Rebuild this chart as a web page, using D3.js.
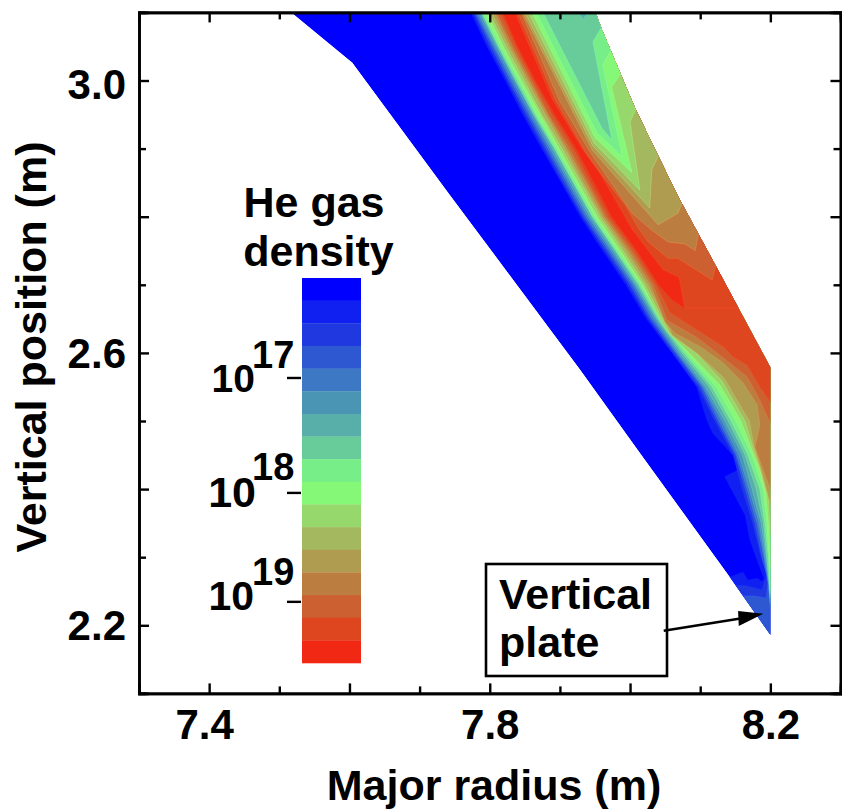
<!DOCTYPE html>
<html><head><meta charset="utf-8">
<script src="https://cdnjs.cloudflare.com/ajax/libs/d3/7.8.5/d3.min.js"></script>
<style>html,body{margin:0;padding:0;background:#fff}text{font-family:"Liberation Sans",Arial,sans-serif;font-weight:bold;fill:#000}</style>
</head><body><svg id="c" width="842" height="809"></svg>
<script>
// Axis ticks
const xMajor=[7.4,7.6,7.8,8.0,8.2], xMinor=[7.5,7.7,7.9,8.1], xLabelled=[7.4,7.8,8.2];
const yMajor=[3.0,2.8,2.6,2.4,2.2], yMinor=[2.9,2.7,2.5,2.3], yLabelled=[3.0,2.6,2.2];
// Colour levels, low density to high density
const levelColors=["#0000ff","#1020f0","#2038e0","#2e58d2","#3c78c4","#4a94b4","#58aea8","#68cc9a","#78ee88","#86f878","#96d86c","#a4b860","#b09c50","#bc7e40","#cc6030","#de4620","#f02814"];
const barTicks=[17,18,19];
const barTickLevels=[4.415,9.49,14.3];
// Plasma grid outline (R, Z in metres)
const outline=[[7.517,3.1],[7.604,3.026],[7.743,2.832],[7.929,2.575],[8.014,2.453],[8.142,2.271],[8.2,2.186],[8.2,2.579],[8.12,2.732],[8.071,2.825],[8.038,2.894],[8.007,2.96],[7.986,3.011],[7.959,3.077],[7.951,3.1]];
// Contours on the low-R side: x at each row, then tail points
const rowZ=[3.1,3.05,3.0,2.95,2.9,2.85,2.8,2.75,2.7,2.65,2.6,2.55,2.5,2.45,2.4,2.35,2.3];
const rise1X=[7.773,7.796,7.822,7.847,7.874,7.902,7.929,7.961,7.994,8.023,8.06,8.095,8.11];
const rise1Tail=[[8.118,2.482],[8.15,2.446],[8.154,2.428],[8.135,2.418],[8.164,2.362],[8.171,2.325],[8.181,2.296],[8.191,2.269],[8.188,2.264],[8.181,2.269],[8.168,2.266],[8.161,2.278],[8.142,2.271],[8.121,2.271],[8.121,2.0],[8.4,2.0]];
const rise2X=[7.776,7.799,7.825,7.85,7.877,7.904,7.932,7.964,7.997,8.026,8.061,8.097,8.121,8.147,8.16,8.175,8.187];
const rise2Tail=[[8.195,2.274],[8.188,2.252],[8.164,2.258],[8.128,2.258],[8.128,2.0],[8.4,2.0]];
const rise3X=[7.778,7.802,7.827,7.853,7.88,7.907,7.934,7.967,8.0,8.028,8.064,8.1,8.124,8.15,8.164,8.178,8.188];
const rise3Tail=[[8.197,2.266],[8.194,2.24],[8.178,2.243],[8.164,2.243],[8.142,2.243],[8.142,2.0],[8.4,2.0]];
const rise4X=[7.78,7.805,7.83,7.856,7.883,7.91,7.937,7.97,8.003,8.031,8.066,8.103,8.127,8.152,8.167,8.181,8.191];
const rise4Tail=[[8.197,2.26],[8.2,2.225]];
const rise5X=[7.783,7.807,7.833,7.859,7.886,7.913,7.94,7.973,8.006,8.034,8.068,8.105,8.131,8.155,8.17,8.184,8.192];
const rise5Tail=[[8.198,2.26],[8.2,2.23]];
const rise6X=[7.786,7.81,7.836,7.862,7.889,7.916,7.943,7.976,8.008,8.037,8.071,8.108,8.135,8.16,8.174,8.187,8.194];
const rise6Tail=[[8.198,2.27],[8.2,2.235]];
const rise7X=[7.788,7.812,7.837,7.863,7.892,7.919,7.946,7.979,8.011,8.039,8.074,8.113,8.14,8.164,8.18,8.19,8.195];
const rise7Tail=[[8.2,2.24]];
const rise8X=[7.789,7.813,7.839,7.865,7.893,7.92,7.947,7.98,8.013,8.041,8.077,8.117,8.144,8.168,8.185,8.192,8.197];
const rise8Tail=[[8.2,2.245]];
const rise9X=[7.792,7.816,7.842,7.867,7.896,7.923,7.95,7.983,8.016,8.044,8.081,8.123,8.151,8.174,8.19,8.195,8.198];
const rise9Tail=[[8.2,2.25]];
const rise10X=[7.796,7.819,7.845,7.872,7.899,7.926,7.953,7.986,8.018];
const rise10Tail=[[8.047,2.641],[8.053,2.631],[8.084,2.6],[8.128,2.553],[8.158,2.5],[8.172,2.462],[8.185,2.428],[8.194,2.391],[8.198,2.34],[8.2,2.281]];
const rise11X=[7.799,7.823,7.849,7.874,7.903,7.93,7.957,7.99,8.021];
const rise11Tail=[[8.051,2.641],[8.057,2.628],[8.093,2.601],[8.131,2.559],[8.164,2.5],[8.175,2.462],[8.186,2.428],[8.197,2.387],[8.2,2.333]];
const rise12X=[7.803,7.827,7.853,7.879,7.907,7.933,7.96,7.994,8.025];
const rise12Tail=[[8.054,2.641],[8.06,2.626],[8.097,2.598],[8.134,2.563],[8.17,2.5],[8.177,2.462],[8.187,2.428],[8.2,2.377]];
const rise13X=[7.807,7.83,7.856,7.882,7.91,7.937,7.963,7.998,8.029];
const rise13Tail=[[8.05,2.645],[8.064,2.629],[8.1,2.609],[8.133,2.585],[8.161,2.556],[8.181,2.524],[8.185,2.494],[8.178,2.462],[8.2,2.399]];
const rise14X=[7.81,7.833,7.859,7.884,7.914,7.94,7.966,8.002,8.033];
const rise14Tail=[[8.053,2.648],[8.095,2.623],[8.128,2.597],[8.167,2.565],[8.185,2.531],[8.2,2.497]];
const rise15X=[7.815,7.837,7.862,7.889,7.919,7.944,7.97,8.006,8.037];
const rise15Tail=[[8.057,2.659],[8.095,2.634],[8.133,2.609],[8.147,2.594],[8.167,2.582],[8.185,2.55],[8.2,2.528]];
const rise16X=[7.819,7.84,7.865,7.893,7.923,7.949,7.974,8.01,8.041];
const rise16Tail=[[8.06,2.678],[8.078,2.666]];
// Contours on the high-R side, painted from high density to low density
const fall15=[[7.836,3.1],[7.89,2.971],[7.933,2.898],[7.957,2.864],[7.99,2.805],[8.004,2.78],[8.047,2.722],[8.07,2.711],[8.078,2.666]];
const fall14=[[7.84,3.1],[7.894,2.971],[7.939,2.891],[7.963,2.857],[7.993,2.817],[8.014,2.78],[8.026,2.763],[8.054,2.739],[8.068,2.739],[8.117,2.707],[8.123,2.733]];
const fall13=[[7.845,3.1],[7.899,2.971],[7.943,2.895],[8.003,2.805],[8.031,2.78],[8.054,2.763],[8.078,2.76],[8.093,2.75],[8.098,2.778]];
const fall12=[[7.847,3.1],[7.946,2.898],[8.04,2.788],[8.068,2.805],[8.077,2.827]];
const fall11=[[7.85,3.1],[7.947,2.904],[8.028,2.813],[8.031,2.869],[8.043,2.895]];
const fall10=[[7.855,3.1],[7.949,2.908],[8.014,2.839],[8.0,2.939],[8.011,2.964]];
const fall9=[[7.86,3.1],[7.95,2.916],[8.003,2.864],[7.974,2.99],[7.99,3.015]];
const fall8=[[7.866,3.1],[7.953,2.923],[7.989,2.888],[7.961,3.023],[7.976,3.051]];
const fall7=[[7.876,3.1],[7.96,2.93],[7.974,2.913],[7.947,3.057],[7.961,3.081]];
const fall6=[[7.926,3.1],[7.933,3.09],[7.94,3.1]];
// Arrow of the "Vertical plate" note (R, Z in metres)
const arrowLine=[[8.048,2.192],[8.164,2.211]];
const arrowHead=[[8.154,2.221],[8.19,2.217],[8.155,2.199]];

const rises=[[rise1X,rise1Tail],[rise2X,rise2Tail],[rise3X,rise3Tail],[rise4X,rise4Tail],[rise5X,rise5Tail],[rise6X,rise6Tail],[rise7X,rise7Tail],[rise8X,rise8Tail],[rise9X,rise9Tail],[rise10X,rise10Tail],[rise11X,rise11Tail],[rise12X,rise12Tail],[rise13X,rise13Tail],[rise14X,rise14Tail],[rise15X,rise15Tail],[rise16X,rise16Tail]];
const falls=[[15,fall15],[14,fall14],[13,fall13],[12,fall12],[11,fall11],[10,fall10],[9,fall9],[8,fall8],[7,fall7],[6,fall6]];

const svg=d3.select("#c");
const x=d3.scaleLinear().domain([7.3,8.3]).range([139,840.5]);
const y=d3.scaleLinear().domain([3.1,2.1]).range([12.4,693.4]);
const line=d3.line().x(d=>x(d[0])).y(d=>y(d[1]));
const FS=43, TICKFS=42;

svg.append("clipPath").attr("id","env").append("path").attr("d",line(outline)+"Z");
const g=svg.append("g").attr("clip-path","url(#env)");
g.append("path").attr("d",line(outline)+"Z").attr("fill",levelColors[0]);
const close=pts=>{const l=pts[pts.length-1];return pts.concat([[8.4,l[1]],[8.4,3.2],[pts[0][0],3.2]]);};
const hair=c=>d3.color(c).brighter(0.7).formatHex();
function band(pts,lev){g.append("path").attr("d",line(close(pts))+"Z").attr("fill",levelColors[lev]).attr("stroke",hair(levelColors[lev])).attr("stroke-width",0.6).attr("stroke-opacity",0.6);}
rises.forEach(([xs,tail],i)=>band(xs.map((v,j)=>[v,rowZ[j]]).concat(tail),i+1));
falls.forEach(([lev,pts])=>band(pts,lev));

// Axes
function ax(gen,scale,maj,min,tr,fmt,pad){
  const a=svg.append("g").attr("transform",tr);
  a.call(gen(scale).tickValues(min).tickSize(-7).tickFormat(""));
  const b=svg.append("g").attr("transform",tr);
  b.call(gen(scale).tickValues(maj).tickSize(-10).tickPadding(pad).tickFormat(fmt));
  [a,b].forEach(s=>{s.attr("font-family",null).attr("font-size",null);s.selectAll("line").attr("stroke","#000").attr("stroke-width",2.4);s.selectAll("path").attr("stroke","#000").attr("stroke-width",2.6).attr("fill","none");});
  b.selectAll("text").style("font-size",TICKFS+"px");
  return b;
}
const fm=l=>v=>l.some(k=>Math.abs(k-v)<1e-6)?v.toFixed(1):"";
const bx=ax(d3.axisBottom,x,xMajor,xMinor,"translate(0,693.4)",fm(xLabelled),16);
ax(d3.axisTop,x,xMajor,xMinor,"translate(0,12.4)",()=>"",4);
const ly=ax(d3.axisLeft,y,yMajor,yMinor,"translate(139,0)",fm(yLabelled),13);
ax(d3.axisRight,y,yMajor,yMinor,"translate(840.5,0)",()=>"",4);
bx.selectAll("text").attr("dx",d=>Math.abs(d-7.4)<1e-6?-5:0);
ly.selectAll("text").attr("dy",d=>Math.abs(d-3.0)<1e-6?18:Math.abs(d-2.6)<1e-6?15:14);

svg.append("text").attr("x",494).attr("y",800).attr("text-anchor","middle").style("font-size",FS+"px").text("Major radius (m)");
svg.append("text").attr("transform","translate(46,347) rotate(-90)").attr("text-anchor","middle").style("font-size",FS+"px").text("Vertical position (m)");

// Colour bar
const bar=d3.scaleLinear().domain([0,17]).range([278,663]);
svg.append("g").selectAll("rect").data(levelColors).join("rect")
 .attr("x",302).attr("width",59).attr("y",(d,i)=>bar(i)).attr("height",(d,i)=>bar(i+1)-bar(i)+0.3).attr("fill",d=>d);
svg.append("text").attr("x",314).attr("y",217).attr("text-anchor","middle").style("font-size",FS+"px").text("He gas");
svg.append("text").attr("x",318.5).attr("y",266).attr("text-anchor","middle").style("font-size",FS+"px").text("density");
const baseDy=[14,14,8], expDy=[-10,-13,-17], baseX=[255,256,254], baseFs=[39,43,41];
barTicks.forEach((t,i)=>{
  const yy=bar(barTickLevels[i]);
  svg.append("line").attr("x1",287).attr("x2",301).attr("y1",yy).attr("y2",yy).attr("stroke","#000").attr("stroke-width",2.4);
  svg.append("text").attr("x",baseX[i]).attr("y",yy+baseDy[i]).attr("text-anchor","end").style("font-size",baseFs[i]+"px").text("10");
  svg.append("text").attr("x",252).attr("y",yy+expDy[i]).style("font-size","38px").text(t);
});

// Annotation
svg.append("rect").attr("x",486).attr("y",564).attr("width",181).attr("height",112).attr("fill","#fff").attr("stroke","#000").attr("stroke-width",2.6);
svg.append("text").attr("x",499).attr("y",609).style("font-size",FS+"px").text("Vertical");
svg.append("text").attr("x",499).attr("y",657).style("font-size",FS+"px").text("plate");
svg.append("path").attr("d",line(arrowLine)).attr("stroke","#000").attr("stroke-width",2.6).attr("fill","none");
svg.append("path").attr("d",line(arrowHead)+"Z").attr("fill","#000");
</script></body></html>
